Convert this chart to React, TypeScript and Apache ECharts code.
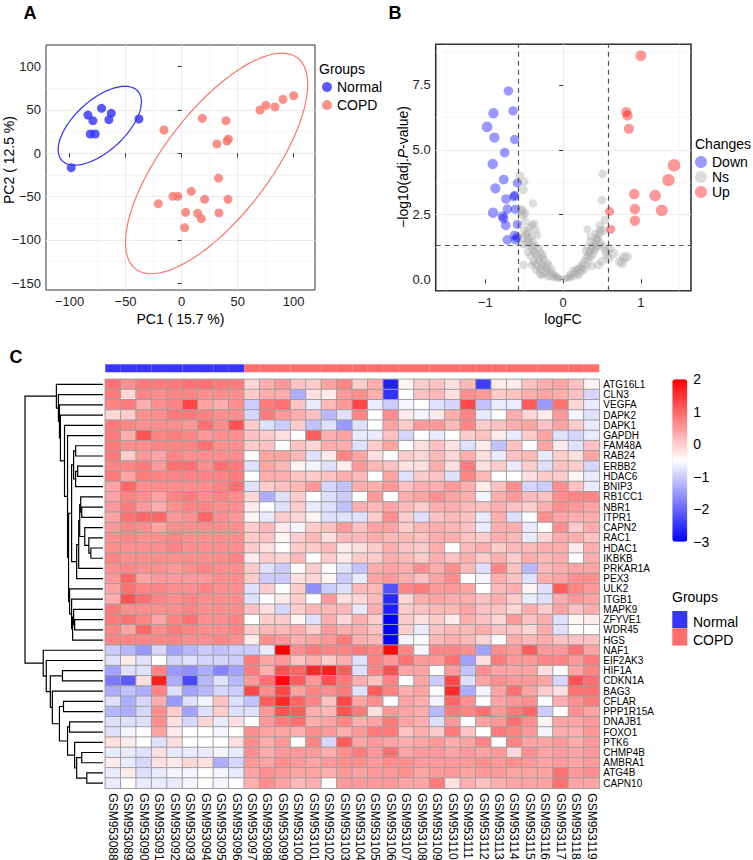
import React, { useEffect, useRef } from 'react';
import * as echarts from 'echarts';

const FONT = 'Liberation Sans, Arial, Helvetica, sans-serif';

// ---------- Panel A : PCA ----------
const normalPC1 = [-83.6, -71.4, -79.2, -62.8, -64.9, -81.5, -77.1, -38.1, -98.5];
const normalPC2 = [44.2, 51.9, 37.7, 46.2, 38.8, 22.3, 22.3, 39.6, -16.5];
const copdPC1 = [-15.8, 18.5, 39.6, 31.5, 40.5, 41.7, 69.9, 75.3, 83.3, 90.5, 100, 33, -20.8, -7.7, -3.3, 8.6, 20.5, 41.4, 3.6, 14.3, 17.6, 33.3, 2.7];
const copdPC2 = [26.9, 40.4, 37.7, 10.8, 14.2, 16.5, 50, 55.4, 53.5, 62.3, 66.5, -28.5, -58.1, -49.6, -49.6, -43.8, -53.1, -53.1, -68.1, -69.2, -75.4, -68.8, -85.8];
const pcaXTicks = [-100, -50, 0, 50, 100];
const pcaYTicks = [-150, -100, -50, 0, 50, 100];
const ellipseScaleNormal = 2.2;
const ellipseScaleCOPD = 2.4;

// ---------- Panel B : volcano ----------
const downLogFC = [-0.705, -0.897, -0.645, -0.979, -0.885, -0.624, -0.752, -0.906, -0.765, -0.872, -0.59, -0.624, -0.632, -0.735, -0.902, -0.718, -0.615, -0.778, -0.769, -0.739, -0.59, -0.718, -0.628, -0.611, -0.595];
const downLogP = [7.27, 6.41, 6.5, 5.88, 5.47, 5.4, 4.89, 4.45, 3.85, 3.51, 3.72, 3.24, 3.19, 3.1, 2.57, 2.71, 2.7, 2.44, 2.35, 2.08, 2.12, 1.52, 1.7, 1.52, 1.62];
const upLogFC = [1.0, 0.812, 0.829, 0.846, 1.427, 1.355, 0.915, 1.184, 0.923, 1.269, 0.923, 0.598, 0.611];
const upLogP = [8.63, 6.46, 6.32, 5.81, 4.4, 3.83, 3.29, 3.23, 2.71, 2.66, 2.26, 2.62, 1.93];
const nsLogFC = [-0.05, -0.08, -0.10, -0.12, -0.15, -0.18, -0.20, -0.22, -0.25, -0.27, -0.30, -0.32, -0.34, -0.36, -0.38, -0.40, -0.42, -0.44, -0.46, -0.48, -0.50,
  -0.30, -0.35, -0.28, -0.25, -0.20, -0.40, -0.38, -0.42, -0.45, -0.33, -0.22, -0.16, -0.12, -0.36, -0.39, -0.31, -0.29, -0.26, -0.24, -0.18, -0.14, -0.45, -0.43, -0.40, -0.37, -0.35, -0.33, -0.41, -0.47, -0.51, -0.53, -0.49, -0.52, -0.54, -0.56, -0.50, -0.51, -0.39, -0.49, -0.53, -0.51, -0.30, -0.28, -0.10, -0.06, -0.02, -0.20, -0.26, -0.36,
  0.03, 0.06, 0.09, 0.12, 0.15, 0.18, 0.20, 0.22, 0.25, 0.27, 0.30, 0.32, 0.34, 0.36, 0.38, 0.40, 0.42, 0.44, 0.46, 0.48,
  0.10, 0.14, 0.20, 0.25, 0.18, 0.28, 0.30, 0.33, 0.35, 0.24, 0.16, 0.38, 0.40, 0.42, 0.45, 0.31, 0.29, 0.35, 0.31, 0.35, 0.42, 0.44, 0.48, 0.47, 0.52, 0.54, 0.50, 0.51, 0.37, 0.45, 0.50, 0.65, 0.76, 0.78, 0.82, 0.73, 0.59, 0.60, 0.55, 0.52, 0.56, 0.05, 0.08, 0.12, 0.22];
const nsLogP = [0.05, 0.10, 0.15, 0.20, 0.25, 0.30, 0.38, 0.45, 0.50, 0.60, 0.70, 0.80, 0.90, 1.00, 1.10, 1.20, 1.35, 1.50, 1.60, 1.75, 1.90,
  0.20, 0.35, 0.45, 0.20, 0.10, 0.55, 0.70, 0.90, 1.05, 0.50, 0.25, 0.10, 0.05, 1.30, 1.45, 1.20, 1.05, 0.85, 0.75, 0.55, 0.40, 1.80, 2.00, 2.10, 2.15, 1.90, 1.70, 1.65, 1.40, 1.35, 1.60, 2.25, 2.50, 2.70, 4.00, 3.77, 3.45, 2.93, 2.55, 2.65, 0.55, 0.35, 0.15, 0.08, 0.03, 0.02, 0.62, 0.95, 0.60,
  0.03, 0.08, 0.12, 0.20, 0.25, 0.35, 0.42, 0.50, 0.60, 0.72, 0.85, 0.95, 1.05, 1.15, 1.25, 1.35, 1.50, 1.60, 1.75, 1.90,
  0.05, 0.10, 0.15, 0.30, 0.20, 0.40, 0.55, 0.70, 0.85, 0.45, 0.40, 0.95, 1.10, 1.20, 1.30, 1.25, 1.10, 1.45, 1.93, 1.65, 1.78, 1.52, 1.39, 2.08, 1.88, 2.29, 3.06, 4.07, 0.50, 0.55, 0.70, 1.00, 0.62, 0.85, 0.87, 0.68, 0.81, 1.20, 1.10, 1.25, 0.95, 0.02, 0.20, 0.35, 0.28];
const fcCutoff = 0.585;
const pCutoff = 1.301;
const volcanoXTicks = [-1, 0, 1];
const volcanoYTicks = [0, 2.5, 5, 7.5];

// ---------- Panel C : heatmap ----------
const samples = ['GSM953088', 'GSM953089', 'GSM953090', 'GSM953091', 'GSM953092', 'GSM953093', 'GSM953094', 'GSM953095', 'GSM953096', 'GSM953097', 'GSM953098', 'GSM953099', 'GSM953100', 'GSM953101', 'GSM953102', 'GSM953103', 'GSM953104', 'GSM953105', 'GSM953106', 'GSM953107', 'GSM953108', 'GSM953109', 'GSM953110', 'GSM953111', 'GSM953112', 'GSM953113', 'GSM953114', 'GSM953115', 'GSM953116', 'GSM953117', 'GSM953118', 'GSM953119'];
const sampleGroups = ['Normal', 'Normal', 'Normal', 'Normal', 'Normal', 'Normal', 'Normal', 'Normal', 'Normal', 'COPD', 'COPD', 'COPD', 'COPD', 'COPD', 'COPD', 'COPD', 'COPD', 'COPD', 'COPD', 'COPD', 'COPD', 'COPD', 'COPD', 'COPD', 'COPD', 'COPD', 'COPD', 'COPD', 'COPD', 'COPD', 'COPD', 'COPD'];
const genes = ['ATG16L1', 'CLN3', 'VEGFA', 'DAPK2', 'DAPK1', 'GAPDH', 'FAM48A', 'RAB24', 'ERBB2', 'HDAC6', 'BNIP3', 'RB1CC1', 'NBR1', 'ITPR1', 'CAPN2', 'RAC1', 'HDAC1', 'IKBKB', 'PRKAR1A', 'PEX3', 'ULK2', 'ITGB1', 'MAPK9', 'ZFYVE1', 'WDR45', 'HGS', 'NAF1', 'EIF2AK3', 'HIF1A', 'CDKN1A', 'BAG3', 'CFLAR', 'PPP1R15A', 'DNAJB1', 'FOXO1', 'PTK6', 'CHMP4B', 'AMBRA1', 'ATG4B', 'CAPN10'];
const zScores = [
  [0.9, 0.6, 0.8, 0.8, 0.8, 0.9, 0.9, 0.8, 0.8, -0.1, 0.3, 0.5, 0.1, 0.0, 0.4, 0.7, 0.0, 0.3, -2.7, -0.4, 0.0, 0.1, -0.2, 0.2, -2.4, -0.3, -0.3, 0.1, 0.3, 0.4, 0.1, -0.4],
  [0.8, -0.1, 0.7, 0.6, 0.7, 0.7, 0.6, 0.6, 0.6, 0.0, 0.3, 0.3, -1.3, -0.2, -0.3, 0.5, 0.6, 0.3, -2.5, -0.5, 0.1, 0.2, -0.2, 0.6, 0.5, 0.0, 0.1, 0.3, 0.4, 0.3, 0.1, -0.9],
  [0.7, 0.8, 0.3, 0.6, 0.7, 1.3, 0.4, 0.3, 0.6, -1.0, 0.8, 0.9, 0.1, -0.7, 0.2, 0.5, 1.3, -0.7, -1.0, -0.6, -0.5, -0.8, -0.9, 1.3, -1.1, -0.7, -0.7, 1.1, -1.5, 0.9, -0.1, -0.7],
  [-0.1, 0.0, 0.6, 0.6, 0.8, 0.8, 0.7, 0.6, 0.6, -0.9, 0.8, 0.5, 0.3, 0.1, -1.2, -0.8, 0.7, -0.5, 0.6, -0.3, -0.6, -0.3, 0.3, 0.7, -0.7, -0.5, 0.3, -0.1, -0.3, 0.5, -0.6, -0.8],
  [0.8, 0.7, 0.6, 0.6, 0.6, 0.5, 0.9, 0.6, 1.2, 0.0, -0.8, -1.0, 0.0, -1.1, -0.8, -1.5, -0.8, -0.5, 0.4, 0.0, 0.5, 0.5, 0.2, 0.7, 0.0, 0.1, 0.3, 0.4, 0.1, 0.4, 0.0, -0.7],
  [0.8, 0.3, 1.2, 0.7, 0.8, 0.7, 0.5, 0.6, 0.6, 0.1, 0.0, -0.2, -0.5, 1.1, 0.3, 0.4, -0.7, -0.7, 0.1, -0.9, -0.5, -0.7, -0.5, 0.0, 0.1, -0.3, -0.7, 0.0, 0.4, -0.8, -0.9, -0.7],
  [0.8, 0.6, 0.6, 0.7, 0.7, 0.7, 0.9, 0.6, 0.6, 0.0, 0.1, -0.5, 0.1, -0.1, 0.3, 0.3, -0.8, 0.0, 0.4, -0.5, -0.2, 0.1, -0.2, -0.8, -0.3, -1.1, 0.1, -0.5, 0.4, -0.3, -0.8, 0.1],
  [0.8, 0.0, 0.5, 0.4, 0.7, 0.6, 0.6, 0.6, 0.6, -0.5, 0.4, 0.4, 0.2, -0.8, -0.3, 0.7, 0.4, -0.2, -0.5, 0.0, -0.1, 0.2, -0.1, 0.3, -0.2, -0.7, 0.1, 0.2, -0.7, 0.0, -0.2, 0.4],
  [0.7, 0.7, 0.8, 0.5, 0.9, 0.9, 0.6, 0.9, 0.8, -0.8, 0.4, 0.2, -0.4, -0.6, -0.8, -0.3, 0.5, 0.2, 0.1, -0.2, -0.2, 0.3, -0.2, 0.8, -0.2, 0.0, -0.7, 0.0, -0.8, 0.1, 0.0, -0.9],
  [0.8, 0.4, 0.8, 0.7, 0.7, 0.7, 0.7, 0.7, 0.8, -0.5, 0.3, 0.3, 0.1, 0.0, 0.1, 0.3, 0.2, -0.5, 0.4, -0.8, 0.0, 0.1, -0.8, 0.7, 0.2, -0.5, -0.5, -0.2, 0.0, 0.0, -0.4, -0.7],
  [0.4, 1.0, 0.6, 0.6, 0.6, 0.6, 0.6, 0.7, 0.9, -0.8, 0.0, 0.1, 0.2, 0.5, -0.9, -1.1, 0.3, 0.3, 0.5, 0.1, 0.3, 0.3, 0.5, 0.3, -0.3, 0.1, 0.6, -0.9, -1.0, 0.6, 0.1, -0.7],
  [0.4, 0.7, 0.6, 0.4, 0.7, 0.8, 0.6, 0.7, 0.6, -0.1, -1.3, -0.8, 0.0, -0.5, -0.8, -1.0, -0.5, 0.5, -0.5, 0.3, 0.4, 0.6, 0.4, 0.3, -0.6, 0.3, 0.5, 0.2, 0.1, 0.6, 0.7, 0.7],
  [0.5, 0.8, 0.5, 0.3, 0.6, 0.7, 0.7, 0.6, 0.6, -0.3, -0.5, -0.8, 0.0, -0.7, -0.8, -1.1, 0.3, 0.2, 0.4, 0.2, 0.0, 0.3, 0.3, 0.2, 0.1, 0.3, 0.1, 0.0, 0.3, 0.6, 0.5, 0.4],
  [0.4, 0.9, 1.0, 1.0, 0.5, 0.6, 1.0, 0.6, 0.5, -0.4, -0.7, 0.0, -0.1, -0.4, -0.8, -0.8, -0.8, 0.0, 0.6, 0.0, -0.8, 0.1, 0.2, 0.1, -0.7, 0.3, -0.8, -0.5, 0.6, 0.4, 0.3, 0.3],
  [0.5, 0.7, 0.6, 0.4, 0.6, 0.6, 0.6, 0.6, 0.6, 0.0, 0.2, -0.3, -0.6, 0.0, 0.1, 0.5, 0.1, 0.4, 0.4, 0.0, 0.2, 0.3, 0.2, 0.1, -0.7, 0.3, 0.3, -0.7, -0.5, 0.6, 0.0, 0.3],
  [0.6, 0.7, 0.6, 0.6, 0.7, 0.6, 0.6, 0.6, 0.6, 0.0, 0.1, -0.4, 0.0, 0.2, -0.2, 0.2, 0.2, 0.3, 0.2, 0.2, 0.1, 0.3, 0.3, 0.1, 0.0, 0.3, 0.2, -0.7, -0.1, 0.3, 0.3, 0.1],
  [0.6, 0.6, 0.6, 0.6, 0.7, 0.6, 0.6, 0.6, 0.6, 0.0, -0.2, -0.5, 0.0, 0.0, 0.2, -0.3, -0.2, 0.0, 0.3, 0.1, 0.0, 0.3, -0.5, 0.2, 0.3, 0.0, 0.2, 0.2, 0.3, 0.3, -0.3, 0.3],
  [0.7, 0.6, 0.6, 0.6, 0.6, 0.6, 0.6, 0.6, 0.7, -0.3, 0.0, -0.1, 0.2, -0.5, 0.0, -0.3, 0.0, 0.0, 0.3, 0.2, 0.0, 0.3, 0.1, 0.3, 0.0, 0.3, 0.0, 0.3, 0.2, 0.3, -0.5, 0.3],
  [0.6, 0.7, 0.6, 0.6, 0.5, 0.6, 0.7, 0.6, 0.6, 0.0, -0.8, -1.0, -0.5, 0.0, -0.5, -0.8, -1.1, 0.3, 0.4, 0.3, 0.6, 0.3, 0.6, 0.2, -0.8, 0.7, 0.1, -1.2, 0.2, 0.3, 0.4, 0.4],
  [0.5, 1.0, 0.4, 0.5, 0.5, 0.5, 0.5, 0.6, 0.6, 0.0, -1.0, -1.0, -0.2, -0.1, -0.4, -1.0, -0.7, 0.4, 0.5, 0.3, 0.1, 0.4, 0.6, -0.5, -0.6, 0.3, 0.1, -0.8, 0.3, 0.4, 0.6, 0.6],
  [0.4, 0.9, 0.7, 0.7, 0.6, 0.6, 0.7, 0.6, 0.6, -0.8, 0.0, -0.5, 0.0, -1.6, -1.0, -0.8, 0.2, 0.2, -2.2, 0.7, 0.8, 0.5, 0.5, 0.4, -0.5, 0.2, 0.3, -0.4, -0.8, 1.1, 0.7, 0.5],
  [0.3, 1.2, 0.9, 0.7, 0.6, 0.7, 0.6, 0.6, 0.6, -0.8, -0.5, -0.3, 0.0, -0.5, 0.5, -0.2, -0.1, 0.2, -2.6, -0.1, 0.3, 0.4, 0.3, 0.3, 0.1, 0.3, 0.0, -0.7, -0.8, 0.3, 0.5, 0.4],
  [0.8, 0.6, 0.6, 0.6, 0.6, 0.7, 0.6, 0.6, 0.6, 0.1, -0.2, -0.9, 0.0, 0.2, 0.2, 0.2, -0.7, 0.3, -2.7, 0.0, 0.1, 0.2, 0.2, 0.4, 0.1, 0.1, -0.1, 0.3, 0.0, 0.4, 0.1, 0.3],
  [0.8, 0.9, 0.7, 0.4, 0.7, 0.9, 0.6, 0.6, 0.7, -0.5, 0.0, 0.0, -0.4, -0.8, 0.3, -0.1, 0.3, 0.0, -3.0, 0.0, -0.2, 0.0, -0.3, 0.3, 0.1, -0.1, 0.5, 0.1, 0.3, -0.8, -0.4, -0.3],
  [0.7, 0.4, 1.0, 0.6, 0.8, 0.7, 0.6, 0.6, 0.7, 0.0, 0.2, 0.2, 0.3, 0.0, 0.5, 0.3, 0.3, 0.1, -3.0, 0.0, -0.7, 0.1, 0.2, 0.2, 0.3, 0.1, 0.1, -0.1, 0.3, -0.8, -0.5, -0.5],
  [0.7, 0.7, 0.7, 0.7, 0.7, 0.6, 0.6, 0.7, 0.6, -0.3, 0.6, 0.5, 0.3, 0.4, 0.5, 0.8, 0.3, 0.2, -3.0, -0.6, -0.5, 0.2, 0.3, 0.2, -0.1, -0.5, 0.3, 0.2, 0.3, 0.1, 0.1, 0.1],
  [-1.0, -1.2, -1.5, -0.9, -1.4, -1.2, -1.0, -1.1, -1.0, -1.0, -0.7, 2.0, 0.6, 0.8, 0.7, 0.7, 0.8, 0.7, 1.9, 0.7, -0.6, 0.7, 0.7, 0.6, -1.4, 0.6, 0.5, 1.1, 0.5, 0.5, 0.9, 0.4],
  [-0.8, -0.3, -0.8, -0.5, -0.9, -0.8, -0.9, -0.9, -1.0, 0.8, 0.4, 0.5, 0.1, 0.3, 0.0, 0.3, -0.8, 0.7, 0.5, 0.9, 0.5, 0.5, 0.9, -1.4, -0.2, 0.8, 0.5, 0.5, 0.7, 0.7, 0.5, 0.8],
  [-1.4, -0.8, -0.8, 0.7, -1.5, -1.6, -1.3, -1.7, -1.4, 0.8, 0.3, 1.2, 1.0, 1.6, 1.7, 1.1, -0.8, 0.7, 1.2, 0.4, 0.4, -0.5, 0.5, -1.1, 0.6, 0.4, 0.4, 0.4, -0.2, -0.5, 0.4, 0.7],
  [-1.8, -2.1, -0.2, 1.7, -1.3, -2.3, -1.2, -0.8, -1.2, 0.5, 0.9, 1.9, 1.1, 0.5, 1.2, 0.8, 0.3, 0.1, 0.7, -0.5, 0.4, -1.0, 1.3, -0.8, 0.4, 0.6, 0.5, 0.5, 0.4, -0.9, 1.2, 0.9],
  [-1.3, -1.1, -1.3, 0.7, -0.8, -1.4, -1.2, -0.9, -1.0, 1.3, 0.6, 1.3, 0.4, 0.7, 0.6, 0.8, -0.8, 1.1, 0.7, 0.3, 0.4, -0.5, 1.6, -1.3, -0.6, 0.4, 0.9, 0.4, 0.0, -0.2, 0.9, 0.9],
  [-0.8, -1.3, -0.9, 0.3, -1.5, -0.8, -0.6, 0.1, -0.8, -1.1, 1.1, 1.6, 1.0, 0.7, 0.1, 1.3, 0.4, 0.6, -0.5, 0.4, 0.3, -0.6, 1.0, 0.6, -0.5, 0.4, 0.5, 0.6, -0.5, 0.3, 0.6, 0.8],
  [-1.2, -1.3, -0.9, 0.6, 0.0, -1.4, -0.8, 0.0, -0.8, -0.8, 0.5, 1.2, 1.1, 0.3, 0.2, 1.2, 0.8, -0.2, 0.5, 0.4, 0.3, -1.2, 0.8, 0.7, 0.9, 0.5, 0.8, 1.0, -1.0, -0.5, 0.6, 0.4],
  [-0.8, -0.8, -0.8, 0.6, -0.2, -0.9, -0.1, -0.7, -0.2, -0.5, 0.5, 0.8, 0.9, 0.3, 0.4, 0.7, 0.3, 0.4, 0.8, 0.4, 0.3, -0.8, 0.5, -0.5, 0.4, 0.5, 0.9, 0.6, -0.4, 0.4, 0.4, 0.5],
  [-0.8, -0.6, -0.5, 0.4, -0.3, -0.5, -0.5, -0.6, -0.5, 0.6, 0.4, 0.4, 0.3, 0.6, 0.5, 0.3, 0.5, 0.8, 0.8, 0.1, 0.3, 0.0, 0.8, 0.1, -0.5, 0.8, 0.7, 0.5, -0.6, 0.3, 0.3, 0.5],
  [-0.2, -0.3, -0.5, -0.8, -0.2, -0.5, -0.5, -0.5, -0.2, 0.6, 0.3, 0.5, -0.5, 0.7, -0.9, 1.1, 0.4, 0.5, 0.4, 0.3, 0.4, 0.5, 0.3, 0.4, 0.7, -0.5, 0.7, 0.4, 0.4, 0.5, 0.3, 0.5],
  [-0.7, -0.7, -0.8, -0.2, -0.7, -0.7, -0.7, -0.6, -0.7, 0.6, 0.3, 0.5, 0.5, 0.5, 0.3, 0.6, 0.8, 0.5, 0.9, 0.4, 0.5, 0.5, 0.4, 0.5, 0.4, 0.5, -0.1, 0.6, 0.4, 0.5, 0.4, 0.5],
  [-0.3, -0.7, -0.9, -0.2, -0.3, -0.1, -0.2, -1.3, -0.9, 0.5, 0.4, 0.6, 0.5, 0.4, 0.5, 0.6, 0.6, 0.5, 0.6, 0.6, 0.5, 0.5, 0.5, 0.5, 0.6, 0.5, 0.6, 0.5, 0.4, 0.5, 0.4, 0.5],
  [-0.7, -0.3, -0.8, -0.7, -0.6, -0.6, -0.5, -0.6, -0.7, 0.4, 0.6, 0.5, 0.4, 0.4, 0.3, 0.5, 0.4, 0.5, 0.5, 0.6, 0.4, 0.5, 0.5, 0.4, 0.5, 0.5, 0.4, 0.4, 0.4, 0.9, 0.5, 0.6],
  [-0.7, -0.5, -0.7, -0.7, -0.7, -0.6, -0.5, -0.6, -0.5, 0.3, 0.6, 0.4, 0.2, 0.3, -0.5, 0.5, 0.5, 0.5, 0.5, 0.4, 0.4, 0.8, -0.2, 0.3, 0.1, 0.3, 0.4, 0.4, 0.4, 0.9, 0.4, 0.4],
];
const colorBarTicks = [-3, -2, -1, 0, 1, 2];

// Row dendrogram, hclust-style: negative = leaf (row index + 1), positive = earlier merge (1-based)
const rowMerge = [
  [-17, -18], [-16, 1], [-15, 2], [-13, -14], [-12, 4], [5, 3], [6, -19], [7, -20],
  [-9, -10], [9, -11], [-7, -8], [11, 10], [12, 8], [-24, -25], [-23, 14], [15, -26],
  [-22, 16], [-21, 17], [13, 18], [-6, 19], [-5, 20], [-4, 21], [-3, 22], [-2, 23], [-1, 24],
  [-39, -40], [-37, -38], [27, 26], [-36, 28], [-34, -35], [30, 29], [-32, -33], [32, 31],
  [-31, 33], [-29, -30], [35, 34], [-28, 36], [-27, 37], [25, 38],
];
const rowMergeHeight = [12, 14, 18, 21, 22, 23, 24, 26, 25, 27, 27, 29, 31, 28, 29, 30, 31, 33, 34, 35, 38, 42, 43, 44, 46,
  16, 21, 26, 28, 33, 35, 39, 43, 50, 40, 52, 56, 59, 77];

// ---------- colours ----------
const BLUE = '#3030FF';
const SALMON = '#F8766D';
const ANN_BLUE = '#3535FF';
const ANN_RED = '#FF6D6D';

const minusFmt = (v: any) => String(v).replace('-', '\u2212');

function ellipsePoints(xs: number[], ys: number[], r: number) {
  const n = xs.length;
  const mx = xs.reduce((a, b) => a + b, 0) / n;
  const my = ys.reduce((a, b) => a + b, 0) / n;
  let sxx = 0, syy = 0, sxy = 0;
  for (let i = 0; i < n; i++) {
    sxx += (xs[i] - mx) ** 2; syy += (ys[i] - my) ** 2; sxy += (xs[i] - mx) * (ys[i] - my);
  }
  sxx /= n - 1; syy /= n - 1; sxy /= n - 1;
  const a = Math.sqrt(sxx), b = sxy / a, c = Math.sqrt(Math.max(syy - b * b, 0));
  const pts: number[][] = [];
  for (let k = 0; k <= 180; k++) {
    const t = (2 * Math.PI * k) / 180;
    const u = Math.cos(t), v = Math.sin(t);
    pts.push([mx + r * a * u, my + r * (b * u + c * v)]);
  }
  return pts;
}

function dendroSegments(merge: number[][], heights: number[]) {
  const pos: number[][] = [];
  const get = (ref: number) => (ref < 0 ? [0, -ref - 1 + 0.5] : pos[ref - 1]);
  const segs: any[] = [];
  merge.forEach(([a, b], i) => {
    const pa = get(a), pb = get(b), h = heights[i];
    segs.push({ coords: [[pa[0], pa[1]], [h, pa[1]], [h, pb[1]], [pb[0], pb[1]]] });
    pos[i] = [h, (pa[1] + pb[1]) / 2];
  });
  return segs;
}

function buildOption() {
  const heatData: any[] = [];
  zScores.forEach((row, r) => row.forEach((v, c) => heatData.push([c, r, v])));

  const axisText = { fontFamily: FONT, fontSize: 13, color: '#222' };
  const gridLine = { show: true, showMinLine: false, showMaxLine: false, lineStyle: { color: '#EBEBEB', width: 1 } };
  const minorLine = { show: true, lineStyle: { color: '#F2F2F2', width: 0.6 } };
  const tick = (vals: number[]) => ({ show: true, length: 4, lineStyle: { color: '#333', width: 1 }, customValues: vals });

  const txt = (text: string, x: number, y: number, opts: any = {}) => ({
    type: 'text', x, y, rotation: opts.rotation || 0, z: 100,
    style: {
      text, fill: '#000', fontFamily: FONT, fontSize: opts.size || 14, fontWeight: opts.bold ? 'bold' : 'normal',
      textAlign: opts.align || 'left', align: opts.align || 'left', textVerticalAlign: 'middle', verticalAlign: 'middle',
      rich: opts.rich,
    },
  });

  const dendro = dendroSegments(rowMerge, rowMergeHeight);
  const rootHeight = Math.max(...rowMergeHeight);

  return {
    animation: false,
    textStyle: { fontFamily: FONT },
    grid: [
      { left: 46, top: 45, width: 269, height: 245, show: true, borderColor: '#333', borderWidth: 1, backgroundColor: 'transparent', containLabel: false, outerBoundsMode: 'none' },
      { left: 435.7, top: 44.3, width: 255.3, height: 246.4, show: true, borderColor: '#333', borderWidth: 1.6, backgroundColor: 'transparent', containLabel: false, outerBoundsMode: 'none' },
      { left: 105.3, top: 379.3, width: 494, height: 409, containLabel: false, outerBoundsMode: 'none' },
      { left: 105.3, top: 364.3, width: 494, height: 8, containLabel: false, outerBoundsMode: 'none' },
      { left: 25, top: 379.3, width: 78, height: 409, containLabel: false, outerBoundsMode: 'none' },
      { left: 672.3, top: 379.3, width: 15, height: 162.4, containLabel: false, outerBoundsMode: 'none' },
    ],
    xAxis: [
      { gridIndex: 0, type: 'value', min: -121, max: 119, minInterval: 50, maxInterval: 50, axisLine: { show: false }, axisTick: tick(pcaXTicks),
        axisLabel: { ...axisText, margin: 5, customValues: pcaXTicks, formatter: minusFmt }, splitLine: gridLine, minorTick: { show: false, splitNumber: 2 }, minorSplitLine: minorLine },
      { gridIndex: 1, type: 'value', min: -1.64, max: 1.645, minInterval: 1, maxInterval: 1, axisLine: { show: false }, axisTick: tick(volcanoXTicks),
        axisLabel: { ...axisText, margin: 5, customValues: volcanoXTicks, formatter: minusFmt }, splitLine: gridLine, minorTick: { show: false, splitNumber: 2 }, minorSplitLine: minorLine },
      { gridIndex: 2, type: 'category', data: samples, axisLine: { show: false }, axisTick: { show: false }, splitLine: { show: false },
        axisLabel: { interval: 0, rotate: -90, fontFamily: FONT, fontSize: 12, color: '#000', margin: 5 } },
      { gridIndex: 3, type: 'category', data: samples, show: false },
      { gridIndex: 4, type: 'value', min: 0, max: rootHeight, inverse: true, show: false },
      { gridIndex: 5, type: 'value', min: 0, max: 1, show: false },
    ],
    yAxis: [
      { gridIndex: 0, type: 'value', min: -157.7, max: 125, minInterval: 50, maxInterval: 50, axisLine: { show: false }, axisTick: tick(pcaYTicks),
        axisLabel: { ...axisText, margin: 5, customValues: pcaYTicks, formatter: minusFmt }, splitLine: gridLine, minorTick: { show: false, splitNumber: 2 }, minorSplitLine: minorLine },
      { gridIndex: 1, type: 'value', min: -0.44, max: 9.07, minInterval: 2.5, maxInterval: 2.5, axisLine: { show: false }, axisTick: tick(volcanoYTicks),
        axisLabel: { ...axisText, margin: 5, customValues: volcanoYTicks, formatter: (v: number) => v.toFixed(1) }, splitLine: gridLine, minorTick: { show: false, splitNumber: 2 }, minorSplitLine: minorLine },
      { gridIndex: 2, type: 'category', data: genes, inverse: true, position: 'right', axisLine: { show: false }, axisTick: { show: false }, splitLine: { show: false },
        axisLabel: { interval: 0, fontFamily: FONT, fontSize: 10, lineHeight: 10, color: '#000', margin: 4 } },
      { gridIndex: 3, type: 'value', min: 0, max: 1, show: false },
      { gridIndex: 4, type: 'value', min: 0, max: genes.length, inverse: true, show: false },
      { gridIndex: 5, type: 'value', min: -3, max: 2, minInterval: 1, maxInterval: 1, position: 'right', axisLine: { show: false }, axisTick: { show: false }, splitLine: { show: false },
        axisLabel: { fontFamily: FONT, fontSize: 14, color: '#000', margin: 6, customValues: colorBarTicks, formatter: minusFmt } },
    ],
    legend: [
      { left: 322, top: 80, orient: 'vertical', data: ['Normal', 'COPD'], icon: 'circle', itemWidth: 10, itemHeight: 10, itemGap: 4, padding: 0, selectedMode: false,
        textStyle: { fontFamily: FONT, fontSize: 14, color: '#000' } },
      { left: 695, top: 155, orient: 'vertical', data: ['Down', 'Ns', 'Up'], icon: 'circle', itemWidth: 12, itemHeight: 12, itemGap: 1, padding: 0, selectedMode: false,
        textStyle: { fontFamily: FONT, fontSize: 14, color: '#000' } },
    ],
    visualMap: {
      type: 'continuous', seriesIndex: 7, dimension: 2, min: -3, max: 2, left: 672.3, top: 379.3, itemWidth: 15, itemHeight: 162.4,
      padding: 0, calculable: false, orient: 'vertical', inRange: { color: ['#0000FF', '#FFFFFF', '#FF0000'] }, textStyle: { color: 'transparent' },
    },
    series: [
      { name: 'Normal', type: 'scatter', xAxisIndex: 0, yAxisIndex: 0, symbolSize: 9, itemStyle: { color: BLUE }, z: 3,
        data: normalPC1.map((x, i) => [x, normalPC2[i]]) },
      { name: 'COPD', type: 'scatter', xAxisIndex: 0, yAxisIndex: 0, symbolSize: 9, itemStyle: { color: SALMON }, z: 3,
        data: copdPC1.map((x, i) => [x, copdPC2[i]]) },
      { name: 'ellNormal', type: 'line', xAxisIndex: 0, yAxisIndex: 0, showSymbol: false, symbol: 'none', lineStyle: { color: BLUE, width: 1.2 },
        data: ellipsePoints(normalPC1, normalPC2, ellipseScaleNormal) },
      { name: 'ellCOPD', type: 'line', xAxisIndex: 0, yAxisIndex: 0, showSymbol: false, symbol: 'none', lineStyle: { color: SALMON, width: 1.2 },
        data: ellipsePoints(copdPC1, copdPC2, ellipseScaleCOPD) },
      { name: 'Ns', type: 'scatter', xAxisIndex: 1, yAxisIndex: 1, itemStyle: { color: 'rgba(170,170,170,0.5)' },
        symbolSize: (v: number[]) => 6.6 + 4.2 * Math.abs(v[0]),
        data: nsLogFC.map((x, i) => [x, nsLogP[i]]),
        markLine: { silent: true, symbol: ['none', 'none'], label: { show: false }, lineStyle: { color: '#555', width: 1.2, type: [5, 4] },
          data: [{ xAxis: -fcCutoff }, { xAxis: fcCutoff }, { yAxis: pCutoff }] } },
      { name: 'Down', type: 'scatter', xAxisIndex: 1, yAxisIndex: 1, itemStyle: { color: 'rgba(0,0,255,0.5)' },
        symbolSize: (v: number[]) => 6.6 + 4.2 * Math.abs(v[0]),
        data: downLogFC.map((x, i) => [x, downLogP[i]]) },
      { name: 'Up', type: 'scatter', xAxisIndex: 1, yAxisIndex: 1, itemStyle: { color: 'rgba(255,0,0,0.5)' },
        symbolSize: (v: number[]) => 6.6 + 4.2 * Math.abs(v[0]),
        data: upLogFC.map((x, i) => [x, upLogP[i]]) },
      { name: 'expr', type: 'heatmap', xAxisIndex: 2, yAxisIndex: 2, data: heatData,
        itemStyle: { borderColor: '#A0A0A0', borderWidth: 1 }, emphasis: { disabled: true } },
      { name: 'annNormal', type: 'bar', xAxisIndex: 3, yAxisIndex: 3, barWidth: '100%', barGap: '-100%', itemStyle: { color: ANN_BLUE },
        data: sampleGroups.map((g) => (g === 'Normal' ? 1 : '-')) },
      { name: 'annCOPD', type: 'bar', xAxisIndex: 3, yAxisIndex: 3, barWidth: '100%', barGap: '-100%', itemStyle: { color: ANN_RED },
        data: sampleGroups.map((g) => (g === 'COPD' ? 1 : '-')) },
      { name: 'dendro', type: 'lines', coordinateSystem: 'cartesian2d', xAxisIndex: 4, yAxisIndex: 4, polyline: true,
        lineStyle: { color: '#000', width: 1.2, opacity: 1 }, data: dendro },
      { name: 'cbar', type: 'scatter', xAxisIndex: 5, yAxisIndex: 5, data: [] },
    ],
    graphic: [
      txt('A', 30, 13, { bold: true, size: 18, align: 'center' }),
      txt('B', 395, 13, { bold: true, size: 18, align: 'center' }),
      txt('C', 16, 357, { bold: true, size: 18, align: 'center' }),
      txt('Groups', 319, 69),
      txt('Changes', 695, 144),
      txt('PC1 ( 15.7 %)', 180.5, 319, { align: 'center' }),
      txt('PC2 ( 12.5 %)', 9, 160, { align: 'center', rotation: Math.PI / 2 }),
      txt('logFC', 563, 319, { align: 'center' }),
      txt('\u2212log10(adj.{i|P}-value)', 403, 167, { align: 'center', rotation: Math.PI / 2, rich: { i: { fontStyle: 'italic', fontFamily: FONT, fontSize: 14, fill: '#000' } } }),
      txt('Groups', 672, 597),
      { type: 'rect', shape: { x: 672.3, y: 611, width: 15, height: 17.3 }, style: { fill: ANN_BLUE } },
      { type: 'rect', shape: { x: 672.3, y: 628.3, width: 15, height: 17.3 }, style: { fill: ANN_RED } },
      txt('Normal', 693, 621.5),
      txt('COPD', 693, 639.5),
    ],
  };
}

export default function App() {
  const ref = useRef<HTMLDivElement>(null);
  useEffect(() => {
    document.body.style.margin = '0';
    const chart = echarts.init(ref.current as HTMLDivElement, null, { renderer: 'svg' });
    chart.setOption(buildOption() as any);
    return () => chart.dispose();
  }, []);
  return <div ref={ref} style={{ width: 753, height: 860, position: 'absolute', left: 0, top: 0, background: '#fff' }} />;
}
